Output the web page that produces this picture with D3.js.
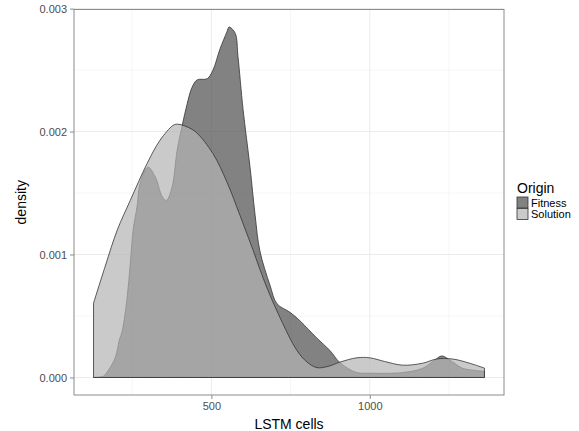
<!DOCTYPE html>
<html>
<head>
<meta charset="utf-8">
<script src="https://cdn.jsdelivr.net/npm/d3@7"></script>
<style>
  body { margin: 0; background: #fff; }
  text { font-family: "Liberation Sans", Arial, sans-serif; }
</style>
</head>
<body>
<div id="density-placeholder"></div>
<script>
'use strict'

// LSTM cells (x) and density (y)
const fitnessX = [128, 140, 159, 175, 197, 209, 219, 234, 244, 253, 266, 275, 300, 323, 345, 358, 376, 392, 408, 423, 439, 455, 487, 505, 527, 549, 556, 575, 584, 600, 622, 638, 653, 685, 707, 748, 780, 833, 874, 906, 959, 1000, 1104, 1167, 1205, 1227, 1262, 1293, 1362]
const fitnessY = [0, 0.000002, 0.00001, 0.00006, 0.000165, 0.0003, 0.000385, 0.00065, 0.00093, 0.0012, 0.0014, 0.00158, 0.00171, 0.00163, 0.00147, 0.00144, 0.00155, 0.00185, 0.00205, 0.00222, 0.00236, 0.00242, 0.00243, 0.0025, 0.00267, 0.00281, 0.00285, 0.0028, 0.00261, 0.00218, 0.00171, 0.00132, 0.00103, 0.00075, 0.0006, 0.00053, 0.00046, 0.00032, 0.00022, 0.00012, 0.00004, 0.000035, 0.00004, 0.000075, 0.00014, 0.000175, 0.000125, 0.000075, 0.00005]

const solutionX = [128, 165, 203, 244, 297, 338, 379, 392, 411, 449, 505, 549, 590, 631, 669, 716, 770, 802, 833, 868, 906, 959, 1000, 1047, 1104, 1167, 1211, 1262, 1315, 1362]
const solutionY = [0.000605, 0.000906, 0.0012, 0.00144, 0.00174, 0.00193, 0.00205, 0.00206, 0.00205, 0.002, 0.00182, 0.00159, 0.00132, 0.00104, 0.00077, 0.00049, 0.00022, 0.000125, 0.00008, 0.00009, 0.000125, 0.00016, 0.00016, 0.00013, 0.0001, 0.000116, 0.00015, 0.00015, 0.000116, 0.000076]

const origins = ['Fitness', 'Solution']
const xTicks = [500, 1000]
const xMinor = [250, 750, 1250]
const yTicks = [0, 0.001, 0.002, 0.003]
const yMinor = [0.0005, 0.0015, 0.0025]

let density = ((selector = '#density-placeholder') => {

    ////////////////////////////////////
    //////////// svg setup /////////////
    ////////////////////////////////////

    var body = d3.select(selector)
    body.html("")

    var svgWidth = 579
    var svgHeight = 431

    var margin = {
        left: 74,
        right: 75,
        top: 9.5,
        bottom: 36
    }

    const height = svgHeight - margin.top - margin.bottom
    const width = svgWidth - margin.left - margin.right

    const root = body.append('svg')
        .attr('width', svgWidth)
        .attr('height', svgHeight)

    const svg = root.append('g')
        .attr('transform', 'translate(' + margin.left + ',' + margin.top + ')')

    ////////////////////////////////////
    //////////////scales////////////////
    ////////////////////////////////////

    // ggplot style 5% expansion around the data range
    var xExt = [d3.min(fitnessX.concat(solutionX)), d3.max(fitnessX.concat(solutionX))]
    var xPad = (xExt[1] - xExt[0]) * 0.05
    var yMax = d3.max(fitnessY.concat(solutionY))

    var xScale = d3.scaleLinear()
        .domain([xExt[0] - xPad, xExt[1] + xPad])
        .range([0, width])

    var yScale = d3.scaleLinear()
        .domain([-yMax * 0.05, yMax * 1.05])
        .range([height, 0])

    var colorScale = d3.scaleOrdinal()
        .domain(origins)
        .range(['#4d4d4d', '#b3b3b3'])

    ////////////////////////////////////
    //////////////grid//////////////////
    ////////////////////////////////////

    svg.selectAll('.minor-x').data(xMinor).enter().append('line')
        .attr('x1', d => xScale(d)).attr('x2', d => xScale(d))
        .attr('y1', 0).attr('y2', height)
        .attr('stroke', '#f6f6f6')

    svg.selectAll('.minor-y').data(yMinor).enter().append('line')
        .attr('y1', d => yScale(d)).attr('y2', d => yScale(d))
        .attr('x1', 0).attr('x2', width)
        .attr('stroke', '#f6f6f6')

    svg.selectAll('.major-x').data(xTicks).enter().append('line')
        .attr('x1', d => xScale(d)).attr('x2', d => xScale(d))
        .attr('y1', 0).attr('y2', height)
        .attr('stroke', '#ebebeb')

    svg.selectAll('.major-y').data(yTicks).enter().append('line')
        .attr('y1', d => yScale(d)).attr('y2', d => yScale(d))
        .attr('x1', 0).attr('x2', width)
        .attr('stroke', '#ebebeb')

    ////////////////////////////////////
    //////////////areas/////////////////
    ////////////////////////////////////

    var series = [
        {name: 'Fitness', pts: fitnessX.map((x, i) => [x, fitnessY[i]])},
        {name: 'Solution', pts: solutionX.map((x, i) => [x, solutionY[i]])}
    ]

    var area = d3.area()
        .x(d => xScale(d[0]))
        .y0(yScale(0))
        .y1(d => yScale(d[1]))
        .curve(d3.curveCatmullRom.alpha(0.5))

    svg.selectAll('.dens')
        .data(series)
        .enter()
        .append('path')
        .attr('class', 'dens')
        .attr('d', d => area(d.pts))
        .attr('fill', d => colorScale(d.name))
        .attr('fill-opacity', 0.7)
        .attr('stroke', '#333')
        .attr('stroke-width', 0.8)
        .attr('stroke-linejoin', 'round')

    // panel border
    svg.append('rect')
        .attr('x', 0).attr('y', 0)
        .attr('width', width).attr('height', height)
        .attr('fill', 'none')
        .attr('stroke', '#8c8c8c')
        .attr('stroke-width', 1)

    ////////////////////////////////////
    //////////////axes//////////////////
    ////////////////////////////////////

    svg.append('g')
        .attr('id', 'x-axis')
        .attr('transform', 'translate(0,' + height + ')')
        .call(d3.axisBottom(xScale).tickValues(xTicks).tickFormat(d3.format('d')).tickSize(4).tickPadding(3))

    svg.append('g')
        .attr('id', 'y-axis')
        .call(d3.axisLeft(yScale).tickValues(yTicks).tickFormat(d3.format('.3f')).tickSize(4).tickPadding(3))

    svg.selectAll('#x-axis .domain, #y-axis .domain').remove()
    svg.selectAll('.tick line').attr('stroke', '#8c8c8c')
    svg.selectAll('.tick text')
        .attr('fill', '#4d4d4d')
        .style('font-size', '11px')
        .style('font-family', '"Liberation Sans", Arial, sans-serif')

    // axis titles
    svg.append('text')
        .attr('x', width / 2)
        .attr('y', height + 34)
        .attr('text-anchor', 'middle')
        .style('font-size', '14px')
        .attr('fill', '#000')
        .text('LSTM cells')

    svg.append('text')
        .attr('transform', 'translate(' + (-48) + ',' + (height / 2) + ') rotate(-90)')
        .attr('text-anchor', 'middle')
        .style('font-size', '14px')
        .attr('fill', '#000')
        .text('density')

    ////////////////////////////////////
    //////////////legend////////////////
    ////////////////////////////////////

    var legend = root.append('g')
        .attr('transform', 'translate(517,181)')

    legend.append('text')
        .attr('x', 0).attr('y', 12)
        .style('font-size', '14px')
        .text('Origin')

    var item = legend.selectAll('.key')
        .data(origins)
        .enter()
        .append('g')
        .attr('transform', (d, i) => 'translate(0,' + (16 + i * 11.5) + ')')

    item.append('rect')
        .attr('width', 11).attr('height', 11)
        .attr('fill', d => colorScale(d))
        .attr('fill-opacity', 0.7)
        .attr('stroke', '#333')
        .attr('stroke-width', 0.8)

    item.append('text')
        .attr('x', 14).attr('y', 9.5)
        .style('font-size', '11px')
        .text(d => d)

})

density()
</script>
</body>
</html>
